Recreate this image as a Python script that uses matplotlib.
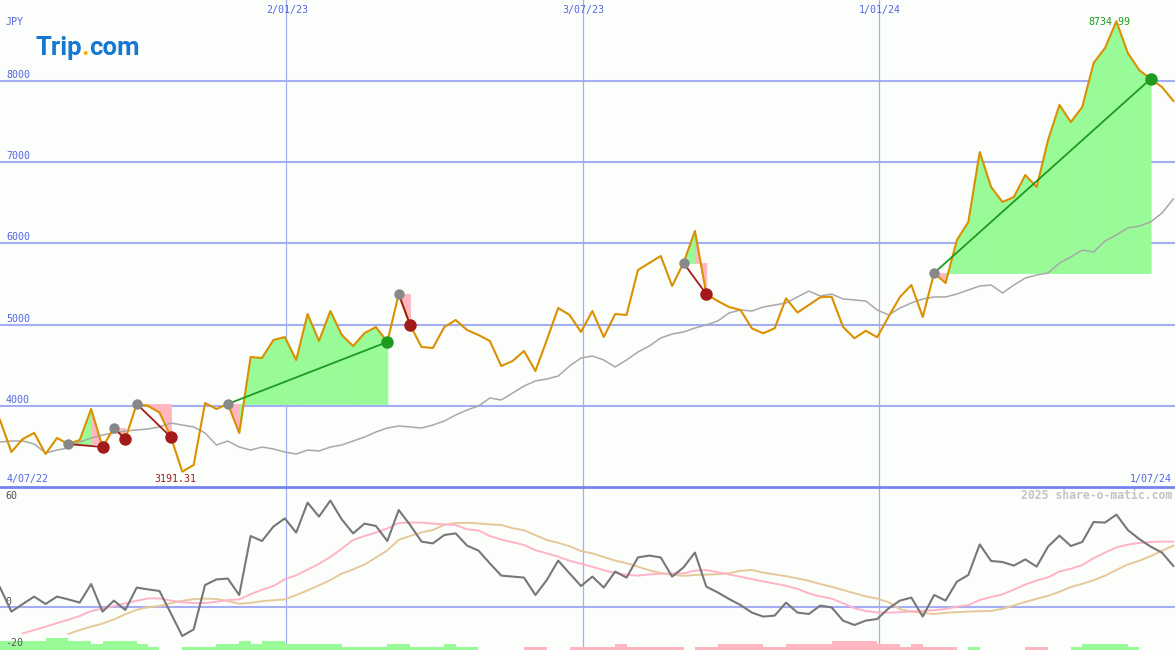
import numpy as np
import pandas as pd
import matplotlib
matplotlib.use("Agg")
import matplotlib.pyplot as plt

# weekly closes, JPY
dates = pd.date_range("2022-07-10", periods=104, freq="7D")
x_end = pd.Timestamp("2024-07-01")

price = [3828, 3434, 3594, 3668, 3409, 3606, 3532, 3582, 3963, 3495,
         3729, 3594, 4025, 4000, 3920, 3618, 3191.31, 3274, 4037, 3963,
         4025, 3668, 4603, 4591, 4812, 4849, 4566, 5132, 4800, 5169,
         4874, 4738, 4898, 4972, 4788, 5378, 4997, 4726, 4714, 4972,
         5058, 4935, 4874, 4800, 4492, 4554, 4677, 4431, 4812, 5206,
         5120, 4911, 5169, 4849, 5132, 5120, 5674, 5760, 5846, 5477,
         5760, 6154, 5378, 5292, 5218, 5182, 4956, 4895, 4956, 5326,
         5150, 5243, 5338, 5345, 4975, 4833, 4926, 4846, 5099, 5342,
         5489, 5095, 5637, 5514, 6043, 6265, 7126, 6695, 6511, 6572,
         6843, 6695, 7274, 7705, 7495, 7680, 8222, 8406, 8734.99, 8345,
         8135, 8025, 7926, 7754]

moving_avg = [3557, 3569, 3569, 3532, 3422, 3458, 3483, 3557, 3606, 3643,
              3668, 3692, 3705, 3717, 3742, 3791, 3766, 3742, 3668, 3520,
              3569, 3495, 3458, 3495, 3471, 3434, 3409, 3458, 3446, 3495,
              3520, 3569, 3618, 3680, 3729, 3754, 3742, 3729, 3766, 3815,
              3889, 3951, 4000, 4098, 4074, 4160, 4246, 4308, 4332, 4369,
              4492, 4591, 4615, 4566, 4480, 4566, 4665, 4738, 4837, 4886,
              4911, 4960, 4997, 5046, 5145, 5182, 5169, 5218, 5243, 5268,
              5342, 5415, 5354, 5378, 5317, 5305, 5292, 5182, 5120, 5206,
              5268, 5317, 5342, 5342, 5378, 5428, 5477, 5489, 5391, 5489,
              5575, 5612, 5637, 5760, 5834, 5920, 5895, 6031, 6105, 6191,
              6215, 6265, 6375, 6548]

# (entry week, exit week)
trades = [(6, 9), (10, 11), (12, 15), (20, 34), (35, 36), (60, 62), (82, 101)]

osc = [9.8, -2.3, 1.5, 5.2, 1.5, 5.2, 3.8, 2.2, 11.5, -2.3,
       3.2, -1.5, 9.7, 8.8, 8.0, -3.2, -14.5, -11.2, 11.0, 13.8,
       14.2, 6.0, 35.5, 33.0, 40.2, 44.3, 37.2, 52.2, 45.2, 53.2,
       43.8, 36.8, 41.7, 40.5, 33.0, 48.5, 41.0, 32.7, 31.8, 36.0,
       36.8, 30.7, 28.2, 21.8, 15.7, 15.2, 14.7, 6.0, 13.5, 23.2,
       16.8, 10.5, 15.2, 9.7, 17.7, 14.7, 24.8, 25.7, 24.8, 15.2,
       19.8, 27.2, 10.2, 7.3, 4.0, 1.0, -2.8, -4.8, -4.3, 2.2,
       -2.8, -3.5, 0.7, -0.2, -6.8, -9.0, -6.8, -6.0, -0.7, 3.2,
       4.7, -4.8, 6.0, 3.2, 12.7, 16.0, 31.3, 23.0, 22.5, 20.7,
       23.8, 20.2, 30.2, 35.7, 30.5, 32.5, 42.5, 42.2, 46.2, 38.5,
       34.0, 30.2, 27.2, 20.5]

nan = np.nan
osc_fast = [nan, nan, -13.2, -11.5, -9.9, -8.0, -6.4, -4.5, -2.0, -0.8,
            0.4, 1.8, 3.1, 4.3, 4.3, 3.2, 2.4, 2.0, 2.0, 2.6,
            3.5, 3.8, 6.4, 8.6, 10.5, 13.8, 15.9, 18.7, 21.6, 25.0,
            29.2, 33.5, 35.5, 37.2, 39.3, 42.0, 42.2, 42.2, 41.7, 41.3,
            41.0, 38.8, 38.3, 35.5, 33.7, 32.4, 31.0, 28.4, 26.8, 25.2,
            23.1, 21.6, 20.1, 18.4, 17.0, 16.1, 15.7, 16.3, 16.6, 16.8,
            16.8, 18.2, 18.5, 17.4, 16.3, 15.1, 13.9, 12.8, 11.7, 10.6,
            9.1, 6.8, 5.3, 4.2, 1.9, -0.6, -2.0, -2.7, -2.8, -2.6,
            -2.2, -1.9, -1.6, -1.0, 0.2, 0.9, 3.5, 5.0, 6.3, 8.7,
            11.2, 13.3, 14.8, 17.8, 19.1, 21.0, 24.4, 27.2, 29.8, 31.2,
            32.0, 32.5, 32.7, 32.7]

osc_slow = [nan, nan, nan, nan, nan, nan, -13.5, -11.5, -9.8, -8.3,
            -6.2, -3.6, -1.4, -0.1, 0.5, 1.9, 3.1, 3.9, 4.2, 4.0,
            3.0, 1.6, 2.1, 2.9, 3.4, 3.8, 6.0, 8.3, 10.8, 13.5,
            16.7, 18.8, 21.3, 24.7, 28.3, 33.6, 35.5, 37.3, 38.5, 41.1,
            42.0, 42.1, 41.8, 41.3, 41.0, 39.4, 38.4, 35.9, 33.5, 32.1,
            30.4, 28.0, 26.8, 25.0, 23.2, 21.9, 20.2, 18.3, 17.0, 16.1,
            15.6, 16.0, 16.2, 16.4, 16.9, 18.1, 18.5, 17.2, 16.3, 15.4,
            14.3, 13.1, 11.5, 10.1, 8.5, 6.9, 5.3, 4.2, 2.4, -1.1,
            -2.3, -3.0, -3.5, -2.9, -2.6, -2.3, -2.1, -2.0, -0.9, 0.8,
            2.5, 4.1, 5.6, 7.6, 10.0, 11.6, 13.4, 15.6, 18.5, 21.3,
            23.1, 25.4, 28.1, 30.7]

# signed strength bars at the bottom (+ green, - pink)
strength = [3, 3, 3, 3, 4, 4, 3, 3, 2, 3,
            3, 3, 2, 1, 0, 0, 1, 1, 1, 2,
            2, 3, 2, 3, 3, 2, 2, 2, 2, 2,
            1, 1, 1, 1, 2, 2, 1, 1, 1, 2,
            1, 1, 0, 0, 0, 0, -1, -1, 0, 0,
            -1, -1, -1, -1, -2, -1, -1, -1, -1, -1,
            0, -1, -1, -2, -2, -2, -2, -1, -1, -2,
            -2, -2, -2, -3, -3, -3, -3, -2, -2, -1,
            -2, -1, -1, -1, 0, 1, 0, 0, 0, 0,
            -1, -1, 0, 0, 1, 2, 2, 2, 2, 1,
            0, 0, 0, 0]

price_ticks = [4000, 5000, 6000, 7000, 8000]
osc_ticks = [60, 0, -20]
half_years = ["2023-01-02", "2023-07-03", "2024-01-01"]
half_year_labels = ["2/01/23", "3/07/23", "1/01/24"]

W, H = 1175, 650
BG = "#FCFEFC"
GRID = "#A4AEF2"
SEP = "#7484EE"
LABEL = "#5366E6"
PRICE_C = "#DA9000"
GREEN_FILL = "#98FB98"
PINK_FILL = "#FFB6C1"
WIN = "#1E9A1E"
LOSS = "#A31A1A"
MONO = "DejaVu Sans Mono"
BAR_UNIT = 1.5


def draw_logo(fig):
    renderer = fig.canvas.get_renderer()
    x = 35
    for s, c in [("Trip", "#1677D2"), (".", "#FFB000"), ("com", "#1677D2")]:
        t = fig.text(x / W, 1 - 55 / H, s, color=c, fontsize=18.5,
                     fontweight="bold", family="Roboto", va="baseline")
        x = t.get_window_extent(renderer).x1


def main():
    fig = plt.figure(figsize=(W / 100, H / 100), dpi=100, facecolor=BG)
    ax = fig.add_axes([0, 163 / H, 1, 487 / H])
    ax2 = fig.add_axes([0, 0, 1, 163 / H], sharex=ax)
    for a in (ax, ax2):
        a.set_axis_off()
    ax.set_xlim(dates[0], x_end)
    ax.set_ylim(3003, 8997)
    ax2.set_ylim(-21.5, 60)

    # grid
    for p in price_ticks:
        ax.axhline(p, color=GRID, lw=1.5, zorder=1)
        ax.annotate(str(p), (0, p), xycoords=("axes fraction", "data"),
                    xytext=(6, 3), textcoords="offset pixels", va="baseline",
                    color=LABEL, fontsize=7.2, family=MONO)
    for d, lab in zip(half_years, half_year_labels):
        d = pd.Timestamp(d)
        ax.axvline(d, color=GRID, lw=0.9, zorder=1)
        ax2.axvline(d, color=GRID, lw=0.9, zorder=1)
        ax.annotate(lab, (d, 1), xycoords=("data", "axes fraction"),
                    xytext=(1, -5), textcoords="offset pixels", ha="center",
                    va="top", color=LABEL, fontsize=7.2, family=MONO)
    ax2.axhline(0, color=GRID, lw=1.5, zorder=1)
    ax2.axhline(60, color=SEP, lw=2.0, zorder=6, clip_on=False)

    # trade shading, segment by segment
    for e, x in trades:
        level = price[e]
        for k in range(e, x):
            col = GREEN_FILL if price[k + 1] >= level else PINK_FILL
            ax.fill_between(dates[k:k + 2], price[k:k + 2], level,
                            facecolor=col, edgecolor=col, lw=0.6, zorder=2)

    ax.plot(dates, moving_avg, color="#A8A8A8", lw=1.1, zorder=3)
    ax.plot(dates, price, color=PRICE_C, lw=1.5, zorder=4)

    for e, x in trades:
        c = WIN if price[x] > price[e] else LOSS
        ax.plot([dates[e], dates[x]], [price[e], price[x]], color=c, lw=1.3, zorder=5)
        ax.plot(dates[e], price[e], "o", color="#888888", ms=7.5, mec="none", zorder=6)
        ax.plot(dates[x], price[x], "o", color=c, ms=9, mec="none", zorder=6)

    imin, imax = int(np.argmin(price)), int(np.argmax(price))
    ax.annotate(f"{price[imin]:.2f}", (dates[imin], price[imin]), xytext=(-7, -2),
                textcoords="offset pixels", ha="center", va="top",
                color=LOSS, fontsize=7.2, family=MONO, zorder=3)
    ax.annotate(f"{price[imax]:.2f}", (dates[imax], price[imax]), xytext=(-7, -4),
                textcoords="offset pixels", ha="center", va="baseline",
                color=WIN, fontsize=7.2, family=MONO, zorder=3)

    ax.annotate("JPY", (0, 1), xycoords="axes fraction", xytext=(6, -25),
                textcoords="offset pixels", va="baseline", color=LABEL,
                fontsize=7.2, family=MONO)
    ax.annotate("4/07/22", (0, 0), xycoords="axes fraction", xytext=(7, 5),
                textcoords="offset pixels", va="baseline", color=LABEL,
                fontsize=7.2, family=MONO)
    ax.annotate("1/07/24", (1, 0), xycoords="axes fraction", xytext=(-3, 5),
                textcoords="offset pixels", ha="right", va="baseline",
                color=LABEL, fontsize=7.2, family=MONO)

    # lower panel
    bar_col = [GREEN_FILL if s > 0 else PINK_FILL for s in strength]
    ax2.bar(dates, [abs(s) * BAR_UNIT for s in strength], width=7, bottom=-21.5,
            align="edge", color=bar_col, lw=0, zorder=2)
    ax2.plot(dates, osc_slow, color="#E6C99A", lw=1.4, zorder=3)
    ax2.plot(dates, osc_fast, color="#FFB3C8", lw=1.4, zorder=3)
    ax2.plot(dates, osc, color="#777777", lw=1.5, zorder=4)

    offsets = {60: -12, 0: 2, -20: 1}
    for v in osc_ticks:
        ax2.annotate(str(v), (0, v), xycoords=("axes fraction", "data"),
                     xytext=(5, offsets[v]), textcoords="offset pixels",
                     va="baseline", color="#555555", fontsize=7.2, family=MONO)
    ax2.annotate("2025 share-o-matic.com", (1, 60), xycoords=("axes fraction", "data"),
                 xytext=(-3, -12), textcoords="offset pixels", ha="right",
                 va="baseline", color="#C4C4C4", fontsize=8.3, fontweight="bold",
                 family=MONO)

    draw_logo(fig)
    fig.savefig("out.png", dpi=100, facecolor=BG)


if __name__ == "__main__":
    main()
